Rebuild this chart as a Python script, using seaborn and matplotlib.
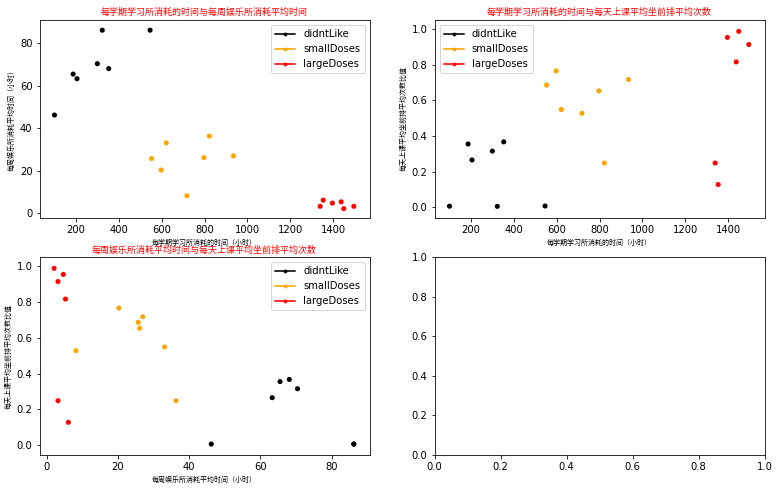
# plot.py
import pandas as pd
import seaborn as sns
import matplotlib.pyplot as plt
from matplotlib.lines import Line2D

# Styling (plain axes, black text)
sns.set_style("ticks", {"axes.edgecolor": "black", "text.color": "black", "axes.labelcolor": "black",
                        "xtick.color": "black", "ytick.color": "black"})
plt.rcParams['font.family'] = ['DejaVu Sans']
cjk = ['Noto Sans CJK SC', 'DejaVu Sans']

# Values: study hours, play hours, front row ratio, class
rows = [
    (100, 46.2, 0.005, "didntLike"), (187, 65.5, 0.355, "didntLike"), (205, 63.3, 0.265, "didntLike"),
    (300, 70.4, 0.315, "didntLike"), (323, 86.2, 0.004, "didntLike"), (353, 68.1, 0.367, "didntLike"),
    (546, 86.2, 0.006, "didntLike"),
    (553, 25.7, 0.687, "smallDoses"), (598, 20.3, 0.766, "smallDoses"), (622, 33.1, 0.549, "smallDoses"),
    (718, 8.2, 0.528, "smallDoses"), (797, 26.1, 0.654, "smallDoses"), (823, 36.3, 0.248, "smallDoses"),
    (935, 27.0, 0.718, "smallDoses"),
    (1340, 3.2, 0.248, "largeDoses"), (1354, 6.1, 0.127, "largeDoses"), (1397, 4.7, 0.955, "largeDoses"),
    (1438, 5.3, 0.817, "largeDoses"), (1450, 2.1, 0.989, "largeDoses"), (1497, 3.2, 0.915, "largeDoses"),
]
df = pd.DataFrame(rows, columns=["study", "play", "front", "kind"])
palette = {"didntLike": "black", "smallDoses": "orange", "largeDoses": "red"}

# Create plot (2x2 grid, last one stays empty)
fig, axs = plt.subplots(nrows=2, ncols=2, figsize=(782 / 72, 491 / 72))
fig.subplots_adjust(left=39.5 / 782, right=764.5 / 782, top=1 - 20 / 491, bottom=1 - 455 / 491,
                    wspace=65 / 330, hspace=40 / 198)

study_label = "每学期学习所消耗的时间（小时）"
play_label = "每周娱乐所消耗平均时间（小时）"
front_label = "每天上课平均坐前排平均次数比值"
panels = [
    (axs[0][0], "study", "play", "每学期学习所消耗的时间与每周娱乐所消耗平均时间", study_label, play_label, "upper right",
     (30, 1570), (-2.1, 91)),
    (axs[0][1], "study", "front", "每学期学习所消耗的时间与每天上课平均坐前排平均次数", study_label, front_label, "upper left",
     (30, 1570), (-0.059, 1.053)),
    (axs[1][0], "play", "front", "每周娱乐所消耗平均时间与每天上课平均坐前排平均次数", play_label, front_label, "upper right",
     (-2, 90.6), (-0.056, 1.05)),
]

handles = [Line2D([0], [0], color=c, marker='.', markersize=6, linewidth=2, alpha=0.8, label=k)
           for k, c in palette.items()]

for ax, x, y, title, xlabel, ylabel, loc, xlim, ylim in panels:
    sns.scatterplot(x=x, y=y, hue="kind", data=df, palette=palette, s=26, linewidth=0, legend=False, ax=ax)
    ax.set_title(title, fontsize=9, color="red", family=cjk, pad=5)
    ax.set_xlabel(xlabel, fontsize=7, family=cjk, labelpad=4)
    ax.set_ylabel(ylabel, fontsize=7, family=cjk, labelpad=4)
    ax.set_xlim(xlim)
    ax.set_ylim(ylim)
    ax.legend(handles=handles, loc=loc)

# Save exactly 782x491 px
plt.savefig("out.png", dpi=72)
plt.close()
